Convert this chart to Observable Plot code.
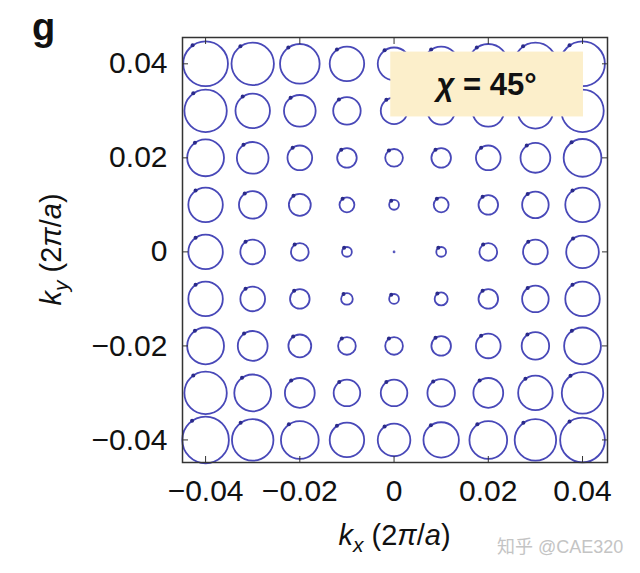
<!DOCTYPE html>
<html><head><meta charset="utf-8">
<script src="https://cdn.jsdelivr.net/npm/d3@7"></script>
<script src="https://cdn.jsdelivr.net/npm/@observablehq/plot@0.6"></script>
<style>
html,body{margin:0;padding:0;background:#fff;}
#chart{width:640px;height:573px;}
</style></head><body><div id="chart"></div>
<script>
// grid of wave vectors (2π/a)
const kx = [-0.04, -0.03, -0.02, -0.01, 0, 0.01, 0.02, 0.03, 0.04];
const ky = [0.04, 0.03, 0.02, 0.01, 0, -0.01, -0.02, -0.03, -0.04];
// contour diameters, in units of 1e-3 (2π/a), one row per ky (top to bottom)
const d_p040 = [9.6, 9.1, 8.5, 7.4, 7.0, 7.4, 8.5, 9.1, 9.6];
const d_p030 = [9.1, 7.4, 6.8, 5.9, 5.7, 5.9, 6.8, 7.6, 9.1];
const d_p020 = [7.9, 6.8, 5.3, 4.2, 3.8, 4.2, 5.3, 6.4, 8.1];
const d_p010 = [7.4, 5.9, 4.7, 3.2, 2.1, 3.2, 4.2, 5.7, 7.4];
const d_000  = [7.4, 5.3, 3.8, 2.1, 0.2, 2.1, 3.8, 5.3, 7.0];
const d_m010 = [7.4, 5.3, 4.2, 2.5, 2.1, 2.8, 4.2, 5.7, 7.4];
const d_m020 = [7.9, 6.4, 4.9, 3.8, 3.8, 4.2, 5.3, 5.9, 7.9];
const d_m030 = [9.1, 7.9, 6.4, 5.7, 5.7, 5.9, 6.4, 7.4, 8.9];
const d_m040 = [10.0, 8.9, 8.1, 7.4, 7.0, 7.6, 8.1, 8.9, 9.6];
const diamRows = [d_p040, d_p030, d_p020, d_p010, d_000, d_m010, d_m020, d_m030, d_m040];
const ticks = [-0.04, -0.02, 0, 0.02, 0.04];
const tickLabels = ["\u22120.04", "\u22120.02", "0", "0.02", "0.04"];
const chiLabel = "45°";

const cells = [];
ky.forEach((y, i) => kx.forEach((x, j) => cells.push({kx: x, ky: y, d: diamRows[i][j]})));

const W = 640, H = 573, mL = 182, mR = 33, mT = 37, mB = 111;
const fmt = d => tickLabels[ticks.indexOf(d)];
const ang = 125 * Math.PI / 180;

const plot = Plot.plot({
  width: W, height: H,
  marginLeft: mL, marginRight: mR, marginTop: mT, marginBottom: mB,
  style: {fontFamily: "'Liberation Sans', Arial, sans-serif", fontSize: "30px", color: "#111", background: "#fff"},
  x: {domain: [-0.0449, 0.0453], label: null},
  y: {domain: [-0.0448, 0.0456], label: null},
  r: {type: "linear", domain: [0, 10], range: [0, 23.3]},
  marks: [
    Plot.dot(cells, {x: "kx", y: "ky", r: "d", stroke: "#4848b8", strokeWidth: 1.8, fill: "none"}),
    Plot.dot(cells.filter(c => c.d > 1), {
      x: c => c.kx + Math.cos(ang) * c.d / 2 * 1e-3,
      y: c => c.ky + Math.sin(ang) * c.d / 2 * 1e-3,
      r: 2, fill: "#2a2a8a"
    }),
    Plot.rect([0], {x1: () => -0.0007, x2: () => 0.0402, y1: () => 0.0287, y2: () => 0.0425, fill: "#fcefcb"}),
    Plot.frame({stroke: "#333", strokeWidth: 1.5}),
    Plot.axisX(ticks, {anchor: "bottom", tickSize: 6, dy: -6, text: null, stroke: "#333", label: null}),
    Plot.axisX(ticks, {anchor: "top", tickSize: 6, dy: 6, text: null, stroke: "#333", label: null}),
    Plot.axisY(ticks, {anchor: "left", tickSize: 6, dx: 6, text: null, stroke: "#333", label: null}),
    Plot.axisY(ticks, {anchor: "right", tickSize: 6, dx: -6, text: null, stroke: "#333", label: null}),
    Plot.axisX(ticks, {anchor: "bottom", tickSize: 0, tickPadding: 17, tickFormat: fmt, label: null, fill: "#111"}),
    Plot.axisY(ticks, {anchor: "left", tickSize: 0, tickPadding: 15, tickFormat: fmt, label: null, fill: "#111"})
  ]
});
document.getElementById("chart").appendChild(plot);

const svg = d3.select(plot);
const sx = plot.scale("x"), sy = plot.scale("y");

// chi label
const chi = svg.append("text")
  .attr("x", sx.apply(0.01975)).attr("y", sy.apply(0.0356))
  .attr("text-anchor", "middle").attr("dy", "0.36em")
  .attr("font-size", 31).attr("font-weight", "bold").attr("fill", "#111");
chi.append("tspan").attr("font-style", "italic").text("χ");
chi.append("tspan").text(" = " + chiLabel);

// x axis label
const xl = svg.append("text")
  .attr("x", (mL + W - mR) / 2).attr("y", 545)
  .attr("text-anchor", "middle").attr("font-size", 29).attr("fill", "#111");
xl.append("tspan").attr("font-style", "italic").text("k");
xl.append("tspan").attr("font-style", "italic").attr("font-size", 21).attr("dy", 7).text("x");
xl.append("tspan").attr("dy", -7).text(" (2");
xl.append("tspan").attr("font-style", "italic").text("π");
xl.append("tspan").text("/");
xl.append("tspan").attr("font-style", "italic").text("a");
xl.append("tspan").text(")");

// y axis label
const yl = svg.append("text")
  .attr("transform", `translate(61,${(mT + H - mB) / 2}) rotate(-90)`)
  .attr("text-anchor", "middle").attr("font-size", 29).attr("fill", "#111");
yl.append("tspan").attr("font-style", "italic").text("k");
yl.append("tspan").attr("font-style", "italic").attr("font-size", 21).attr("dy", 7).text("y");
yl.append("tspan").attr("dy", -7).text(" (2");
yl.append("tspan").attr("font-style", "italic").text("π");
yl.append("tspan").text("/");
yl.append("tspan").attr("font-style", "italic").text("a");
yl.append("tspan").text(")");

// panel letter
svg.append("text").attr("x", 32).attr("y", 40).attr("text-anchor", "start")
  .attr("font-size", 38).attr("font-weight", "bold").attr("fill", "#111").text("g");

// watermark
svg.append("text").attr("x", 497).attr("y", 553).attr("text-anchor", "start")
  .attr("font-size", 18).attr("fill", "#c4c4c4")
  .attr("font-family", "'Liberation Sans','Noto Sans CJK SC',sans-serif")
  .text("知乎 @CAE320");
</script></body></html>
